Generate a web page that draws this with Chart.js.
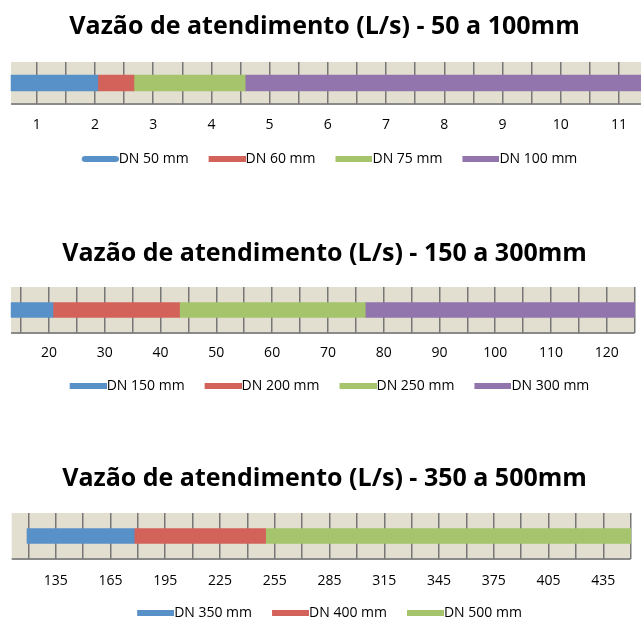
<!DOCTYPE html>
<html>
<head>
<meta charset="utf-8">
<script src="https://cdn.jsdelivr.net/npm/chart.js@4/dist/chart.umd.min.js"></script>
<style>
  html, body { margin: 0; padding: 0; background: #fff; overflow: hidden; }
  .box { position: absolute; left: 0; width: 649px; }
</style>
</head>
<body>
<div class="box" style="top:0px;height:176px"><canvas id="c1"></canvas></div>
<div class="box" style="top:227px;height:176px"><canvas id="c2"></canvas></div>
<div class="box" style="top:452px;height:178px"><canvas id="c3"></canvas></div>
<script>
// Gráfico 1 - 50 a 100mm
const titulo1 = 'Vazão de atendimento (L/s) - 50 a 100mm';
const diametros1 = ['DN 50 mm', 'DN 60 mm', 'DN 75 mm', 'DN 100 mm'];
const inicio1 = [0.56, 2.05, 2.67, 4.58];
const fim1 = [2.05, 2.67, 4.58, 12];
const rotulos1 = [1, 2, 3, 4, 5, 6, 7, 8, 9, 10, 11];

// Gráfico 2 - 150 a 300mm
const titulo2 = 'Vazão de atendimento (L/s) - 150 a 300mm';
const diametros2 = ['DN 150 mm', 'DN 200 mm', 'DN 250 mm', 'DN 300 mm'];
const inicio2 = [13.2, 20.7, 43.4, 76.7];
const fim2 = [20.7, 43.4, 76.7, 125];
const rotulos2 = [20, 30, 40, 50, 60, 70, 80, 90, 100, 110, 120];

// Gráfico 3 - 350 a 500mm
const titulo3 = 'Vazão de atendimento (L/s) - 350 a 500mm';
const diametros3 = ['DN 350 mm', 'DN 400 mm', 'DN 500 mm'];
const inicio3 = [119.3, 178, 250];
const fim3 = [178, 250, 450];
const rotulos3 = [135, 165, 195, 225, 255, 285, 315, 345, 375, 405, 435];

const cores = ['#5890C8', '#D3625A', '#A5C46C', '#9275AD'];

// amostra da legenda: 54px de largura, barra de 37px encostada à direita (sem espaço antes do texto)
function amostra(cor, redondo) {
    const c = document.createElement('canvas');
    c.width = 54;
    c.height = 6;
    const g = c.getContext('2d');
    g.fillStyle = cor;
    if (redondo) {
        g.beginPath();
        g.roundRect(17, 0, 37, 6, 3);
        g.fill();
    } else {
        g.fillRect(17, 0, 37, 6);
    }
    return c;
}

function criarGrafico(id, titulo, diametros, inicio, fim, rotulos, esc, lay) {
    const datasets = diametros.map((d, i) => ({
        label: d,
        data: [[inicio[i], fim[i]]],
        backgroundColor: cores[i],
        borderWidth: 0,
        barThickness: lay.barra,
        grouped: false
    }));

    // fundo bege da área de plotagem + linha do eixo
    const fundo = {
        id: 'fundo',
        beforeDraw(chart) {
            const { ctx, chartArea: a, scales: { x } } = chart;
            const x0 = Math.max(a.left, x.getPixelForValue(esc.areaIni));
            const x1 = Math.min(a.right, x.getPixelForValue(esc.areaFim));
            ctx.save();
            ctx.fillStyle = '#E3DFD0';
            ctx.fillRect(x0, a.top, x1 - x0, a.bottom - a.top);
            ctx.strokeStyle = '#8a8a8a';
            ctx.lineWidth = 2;
            ctx.beginPath();
            ctx.moveTo(x0, a.bottom);
            ctx.lineTo(x1, a.bottom);
            ctx.stroke();
            ctx.restore();
        }
    };

    new Chart(document.getElementById(id), {
        type: 'bar',
        data: { labels: [''], datasets },
        options: {
            indexAxis: 'y',
            responsive: true,
            maintainAspectRatio: false,
            animation: false,
            layout: { padding: 0 },
            scales: {
                x: {
                    min: esc.min,
                    max: esc.max,
                    border: { display: false },
                    grid: {
                        drawTicks: false,
                        lineWidth: 1.5,
                        color: c => (c.tick && c.tick.value >= esc.areaIni - 1e-6 && c.tick.value <= esc.areaFim + 1e-6) ? '#777777' : 'rgba(0,0,0,0)'
                    },
                    ticks: {
                        stepSize: esc.passo,
                        includeBounds: false,
                        autoSkip: false,
                        maxRotation: 0,
                        padding: lay.tickPad,
                        color: '#000',
                        font: { family: 'Open Sans', size: 14 },
                        callback: v => rotulos.includes(v) ? String(v) : ''
                    },
                    afterFit(s) {
                        s.paddingLeft = 0;
                        s.paddingRight = 0;
                        s.height = lay.eixo;
                    }
                },
                y: { display: false }
            },
            plugins: {
                title: {
                    display: true,
                    text: titulo,
                    color: '#000',
                    font: { family: 'Open Sans', size: 25, weight: 'bold' },
                    padding: { top: lay.tPad, bottom: lay.bPad }
                },
                legend: {
                    position: 'bottom',
                    labels: {
                        usePointStyle: true,
                        pointStyleWidth: 40,
                        padding: 10,
                        color: '#000',
                        font: { family: 'Open Sans', size: 14 },
                        generateLabels: chart => chart.data.datasets.map((ds, i) => ({
                            text: ds.label,
                            fillStyle: ds.backgroundColor,
                            strokeStyle: ds.backgroundColor,
                            lineWidth: 0,
                            pointStyle: amostra(ds.backgroundColor, lay.redondo && i === 0),
                            fontColor: '#000',
                            hidden: false,
                            datasetIndex: i
                        }))
                    }
                },
                tooltip: { enabled: false }
            }
        },
        plugins: [fundo]
    });
}

criarGrafico('c1', titulo1, diametros1, inicio1, fim1, rotulos1,
    { min: 0.37, max: 11.515, passo: 0.5, areaIni: 0.56, areaFim: 12 },
    { tPad: 12, bPad: 20, eixo: 38, tickPad: 12.6, barra: 16, redondo: true });

criarGrafico('c2', titulo2, diametros2, inicio2, fim2, rotulos2,
    { min: 11.21, max: 127.57, passo: 5, areaIni: 13.2, areaFim: 125 },
    { tPad: 12, bPad: 18, eixo: 36, tickPad: 11.6, barra: 15 });

criarGrafico('c3', titulo3, diametros3, inicio3, fim3, rotulos3,
    { min: 104.5, max: 460.0, passo: 15, areaIni: 110.9, areaFim: 450 },
    { tPad: 12, bPad: 19, eixo: 37, tickPad: 13.6, barra: 15 });
</script>
</body>
</html>
